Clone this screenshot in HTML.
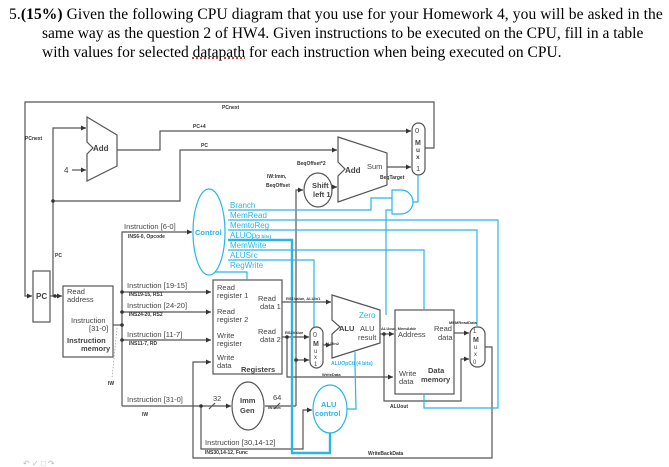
<!DOCTYPE html>
<html><head><meta charset="utf-8"><style>
html,body{margin:0;padding:0;background:#fff;width:669px;height:467px;overflow:hidden}
.q{position:absolute;font-family:"Liberation Serif",serif;font-size:15.5px;color:#000;line-height:19px}
svg{position:absolute;left:0;top:0}
</style></head><body>
<div class="q" style="left:9px;top:5px;white-space:nowrap;letter-spacing:0.1px">5.<b>(15%)</b> Given the following CPU diagram that you use for your Homework 4, you will be asked in the</div>
<div class="q" style="left:42px;top:24px;white-space:nowrap">same way as the question 2 of HW4. Given instructions to be executed on the CPU, fill in a table</div>
<div class="q" style="left:42px;top:43px;white-space:nowrap">with values for selected <span style="text-decoration:underline dotted #c00">datapath</span> for each instruction when being executed on CPU.</div>
<svg width="669" height="467" viewBox="0 0 669 467" font-family="Liberation Sans, sans-serif">
<defs>
<marker id="a" markerWidth="6" markerHeight="6" refX="5" refY="3" orient="auto" markerUnits="userSpaceOnUse"><path d="M0,0.5L5,3L0,5.5z" fill="#333"/></marker>
</defs>
<g stroke="#555" stroke-width="1.2" fill="none">
<polyline points="425,148 434,148 434,102 25,102 25,296 32,296" marker-end="url(#a)"/>
<line x1="50" y1="296" x2="62" y2="296" marker-end="url(#a)"/>
<polyline points="54,296 53,296 53,128 86,128" marker-end="url(#a)"/>
<polyline points="53,201 180,201 180,150 337,150" marker-end="url(#a)"/>
<line x1="72" y1="170" x2="86" y2="170" marker-end="url(#a)"/>
<polyline points="117,150 160,150 160,131 411,131" marker-end="url(#a)"/>
<line x1="387" y1="167" x2="411" y2="167" marker-end="url(#a)"/>
<polygon points="87,117 117,135 117,166 87,181 87,154 93,148 87,142" fill="#fff"/>
<polygon points="338,137 387,153 387,185 338,202 338,176 345,169 338,162" fill="#fff"/>
<ellipse cx="318" cy="190" rx="14" ry="17" fill="#fff"/>
<polyline points="296,406 296,190 303,190" marker-end="url(#a)"/>
<line x1="332" y1="187" x2="337" y2="187" marker-end="url(#a)"/>
<rect x="63" y="286" width="50" height="71" fill="#fff"/>
<rect x="33" y="271" width="17" height="51" fill="#fff"/>
<polyline points="113,325 122,325"/>
<polyline points="122,406 122,232 192,232" marker-end="url(#a)"/>
<line x1="122" y1="292" x2="211" y2="292" marker-end="url(#a)"/>
<line x1="122" y1="312" x2="211" y2="312" marker-end="url(#a)"/>
<line x1="122" y1="340" x2="211" y2="340" marker-end="url(#a)"/>
<line x1="122" y1="406" x2="231" y2="406" marker-end="url(#a)"/>
<line x1="209" y1="409" x2="215" y2="403"/>
<line x1="274" y1="409" x2="280" y2="403"/>
<polyline points="201,406 201,449 303,449 303,410 312,410" marker-end="url(#a)"/>
<polyline points="265,406 296,406"/>
<polyline points="296,360 309,360" marker-end="url(#a)"/>
<rect x="213" y="280" width="69" height="94" fill="#fff"/>
<ellipse cx="248" cy="406" rx="16" ry="24" fill="#fff"/>
<line x1="282" y1="302" x2="331" y2="302" marker-end="url(#a)"/>
<line x1="282" y1="337" x2="309" y2="337" marker-end="url(#a)"/>
<polyline points="287,337 287,377 393,377" marker-end="url(#a)"/>
<line x1="323" y1="345" x2="331" y2="345" marker-end="url(#a)"/>
<polygon points="332,295 380,310 380,343 332,358 332,334 340,327 332,320" fill="#fff"/>
<line x1="380" y1="334" x2="394" y2="334" marker-end="url(#a)"/>
<polyline points="384,334 384,401 461,401 461,359 469,359" marker-end="url(#a)"/>
<rect x="395" y="310" width="59" height="84" fill="#fff"/>
<line x1="454" y1="333" x2="469" y2="333" marker-end="url(#a)"/>
<polyline points="485,347 492,347 492,458 193,458 193,362 211,362" marker-end="url(#a)"/>
<rect x="412" y="123" width="13" height="52" rx="6.5" fill="#fff"/>
<rect x="310" y="327" width="13" height="41" rx="6.5" fill="#fff"/>
<rect x="470" y="327" width="15" height="40" rx="7" fill="#fff"/>
</g>
<g fill="#333"><circle cx="53" cy="201" r="1.8"/><circle cx="55" cy="296" r="1.8"/><circle cx="122" cy="325" r="1.8"/><circle cx="122" cy="292" r="1.8"/><circle cx="122" cy="312" r="1.8"/><circle cx="122" cy="340" r="1.8"/><circle cx="201" cy="406" r="1.8"/><circle cx="287" cy="337" r="1.8"/><circle cx="384" cy="334" r="1.8"/><circle cx="296" cy="360" r="1.8"/></g>
<line x1="117" y1="328" x2="112" y2="378" stroke="#999" stroke-width="0.7" stroke-dasharray="1.5,1.5"/>
<g stroke="#29b5e8" stroke-width="1.2" fill="none">
<ellipse cx="209" cy="232" rx="16" ry="43" fill="#fff"/>
<polyline points="228,210 371,210 371,198 392,198"/>
<polyline points="228,220 498,220 498,408 424,408 424,394"/>
<polyline points="228,230 477,230 477,326"/>
<polyline points="228,250 424,250 424,310"/>
<polyline points="228,260 314,260 314,327"/>
<polyline points="215,272 247,272 247,280"/>
<polyline points="386,315 386,210 392,210"/>
<path d="M392,190 L401,190 A12,12 0 0 1 401,214 L392,214 Z" fill="#fff"/>
<polyline points="413,202 418,202 418,175"/>
<polyline points="355,352 355,365 356,409 347,409"/>
<ellipse cx="330" cy="409" rx="17" ry="24" fill="#fff"/>
</g>
<polyline points="228,240 292,240 292,453 330,453 330,433" stroke="#29b5e8" stroke-width="2.4" fill="none"/>
<g fill="#444" font-size="7.5">
<text x="93" y="151" font-weight="bold" font-size="8">Add</text>
<text x="345" y="173" font-weight="bold" font-size="8">Add</text>
<text x="367" y="169" font-size="7.5">Sum</text>
<text x="64" y="173" font-size="8">4</text>
<text x="415" y="133" font-size="7.5">0</text>
<text x="415" y="145" font-weight="bold" font-size="7">M</text><text x="416" y="152" font-weight="bold" font-size="6.5">u</text><text x="416" y="159" font-weight="bold" font-size="6.5">x</text>
<text x="416" y="171" font-size="7.5">1</text>
<text x="312" y="188" font-weight="bold" font-size="7.5">Shift</text><text x="313" y="197" font-weight="bold" font-size="7.5">left 1</text>
<text x="36" y="299" font-weight="bold" font-size="8">PC</text>
<text x="67" y="294">Read</text><text x="67" y="302">address</text>
<text x="71" y="323">Instruction</text><text x="89" y="331">[31-0]</text>
<text x="67" y="343" font-weight="bold">Instruction</text><text x="81" y="351" font-weight="bold">memory</text>
<text x="127" y="288">Instruction [19-15]</text>
<text x="127" y="308">Instruction [24-20]</text>
<text x="127" y="337">Instruction [11-7]</text>
<text x="127" y="402">Instruction [31-0]</text>
<text x="124" y="229">Instruction [6-0]</text>
<text x="205" y="445">Instruction [30,14-12]</text>
<text x="217" y="290">Read</text><text x="217" y="298">register 1</text>
<text x="217" y="314">Read</text><text x="217" y="322">register 2</text>
<text x="217" y="338">Write</text><text x="217" y="346">register</text>
<text x="217" y="360">Write</text><text x="217" y="368">data</text>
<text x="241" y="372" font-weight="bold">Registers</text>
<text x="258" y="301">Read</text><text x="260" y="309">data 1</text>
<text x="258" y="334">Read</text><text x="260" y="342">data 2</text>
<text x="240" y="403" font-weight="bold">Imm</text><text x="240" y="413" font-weight="bold">Gen</text>
<text x="213" y="401">32</text><text x="273" y="400">64</text>
<text x="313" y="337" font-size="7">0</text><text x="313" y="346" font-weight="bold" font-size="7">M</text><text x="314" y="353" font-size="6">u</text><text x="314" y="359" font-size="6">x</text><text x="314" y="366" font-size="6">1</text>
<text x="339" y="331" font-weight="bold">ALU</text>
<text x="360" y="331">ALU</text><text x="358" y="340">result</text>
<text x="398" y="337">Address</text>
<text x="434" y="331">Read</text><text x="438" y="340">data</text>
<text x="399" y="376">Write</text><text x="399" y="384">data</text>
<text x="428" y="373" font-weight="bold">Data</text><text x="421" y="382" font-weight="bold">memory</text>
<text x="473" y="333" font-size="6">1</text><text x="473" y="342" font-weight="bold" font-size="7">M</text><text x="474" y="349" font-size="6">u</text><text x="474" y="356" font-size="6">x</text><text x="473" y="364" font-size="6">0</text>
</g>
<g fill="#333" font-size="5" font-weight="bold">
<text x="222" y="109">PCnext</text><text x="193" y="128">PC+4</text><text x="201" y="147">PC</text>
<text x="25" y="140">PCnext</text><text x="55" y="257">PC</text>
<text x="297" y="165">BeqOffset*2</text><text x="267" y="178">IW:Imm,</text><text x="266" y="187">BeqOffset</text>
<text x="380" y="179">BeqTarget</text>
<text x="128" y="238">INS6-0, Opcode</text>
<text x="129" y="296">INS19-15, RS1</text><text x="129" y="316">INS24-20, RS2</text><text x="129" y="345">INS11-7, RD</text>
<text x="108" y="385">IW</text><text x="142" y="416">IW</text>
<text x="205" y="454">INS30,14-12, Func</text>
<text x="286" y="300" font-size="4">RS1Value, ALUIn1</text><text x="285" y="334" font-size="4">RS2Value</text>
<text x="325" y="345" font-size="4">ALUIn2</text><text x="322" y="376" font-size="4">WriteData</text>
<text x="268" y="409" font-size="3.5">IW:Imm</text>
<text x="381" y="330" font-size="4">ALUout, MemAddr</text>
<text x="449" y="324" font-size="4">MEMReadData</text>
<text x="390" y="408">ALUout</text><text x="368" y="455">WriteBackData</text>
</g>
<g fill="#29b5e8" font-size="8">
<text x="195" y="235" font-weight="bold" font-size="7.5">Control</text>
<text x="230" y="208">Branch</text><text x="230" y="218">MemRead</text><text x="230" y="228">MemtoReg</text>
<text x="230" y="238">ALUOp<tspan font-size="4.5" font-weight="bold">(2 bits)</tspan></text>
<text x="230" y="248">MemWrite</text><text x="230" y="258">ALUSrc</text><text x="230" y="268">RegWrite</text>
<text x="359" y="318">Zero</text>
<text x="331" y="365" font-size="5" font-weight="bold">ALUOpCtl (4 bits)</text>
<text x="321" y="407" font-weight="bold" font-size="7.5">ALU</text><text x="315" y="416" font-weight="bold" font-size="7.5">control</text>
</g>
<text x="23" y="466" fill="#bbb" font-size="8">↶ ✓ □ ↷</text>
</svg>
</body></html>
